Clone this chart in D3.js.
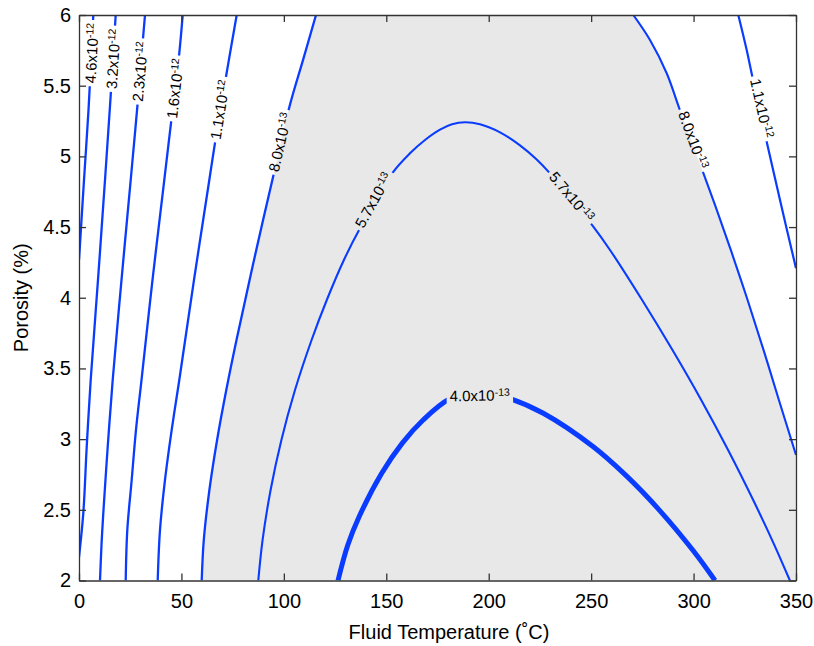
<!DOCTYPE html>
<html lang="en">
<head>
<meta charset="UTF-8">
<title>Permeability contours</title>
<script src="https://d3js.org/d3.v7.min.js"></script>
<style>
  body { margin: 0; background: #fff; }
  text { font-family: "Liberation Sans", Arial, Helvetica, sans-serif; fill: #000; }
</style>
</head>
<body>
<svg width="814" height="646"></svg>
<script>
// axis ticks
const xTicks = [0, 50, 100, 150, 200, 250, 300, 350];
const yTicks = [2, 2.5, 3, 3.5, 4, 4.5, 5, 5.5, 6];

// contour lines, [temperature (C), porosity (%)]
const k46 = [[0,4.267],[2.44,4.833],[4.64,5.328],[6.98,6.0]];
const k32 = [[0,2.166],[2.10,2.477],[3.76,2.944],[5.71,3.418],[9.27,4.126],[12.69,4.833],[15.48,5.434],[17.91,6.0]];
const k23 = [[10.25,2.0],[10.98,2.251],[11.86,2.477],[14.01,2.944],[16.45,3.418],[20.75,4.126],[25.24,4.833],[28.46,5.349],[31.39,5.859],[32.22,6.0]];
const k16 = [[22.80,2.0],[23.58,2.357],[25.72,2.711],[27.82,3.065],[30.51,3.418],[35.88,4.126],[41.64,4.833],[44.91,5.236],[48.96,5.731],[50.62,6.0]];
const k11a = [[38.42,2.0],[39.54,2.357],[41.98,2.711],[45.25,3.065],[48.96,3.418],[56.14,4.126],[63.61,4.833],[66.39,5.095],[71.76,5.564],[76.98,6.0]];
const k80a = [[59.90,2.0],[60.92,2.287],[63.65,2.640],[67.41,2.994],[71.90,3.347],[76.88,3.701],[84.69,4.220],[94.75,4.856],
  [102.95,5.363],[109.34,5.681],[115.69,6.0]];
const k57 = [[87.52,2.0],[89.62,2.287],[93.53,2.640],[98.80,2.994],[105.44,3.347],[113.54,3.701],[120.96,3.984],[129.31,4.267],
  [137.17,4.491],[153.13,4.885],[161.57,5.022],[168.90,5.116],[176.22,5.189],[182.08,5.227],[188.42,5.241],[195.74,5.227],
  [205.51,5.170],[215.27,5.078],[223.42,4.978],[229.57,4.885],[251.05,4.503],[259.20,4.338],[274.87,3.984],[289.71,3.630],
  [303.72,3.277],[316.85,2.923],[329.10,2.569],[339.06,2.263],[347.02,2.0]];
const k40 = [[126.43,2.0],[131.21,2.251],[136.73,2.451],[147.76,2.758],[157.72,2.970],[167.97,3.135],[180.61,3.282],
  [194.77,3.340],[210.05,3.289],[226.64,3.183],[251.05,2.946],[267.35,2.738],[283.61,2.493],[299.87,2.210],[310.46,2.0]];
const k80b = [[270.58,6.0],[278.73,5.823],[286.88,5.588],[293.03,5.340],[305.14,4.868],[310.75,4.644],[318.17,4.338],
  [326.37,3.984],[334.18,3.630],[341.65,3.277],[350,2.888]];
const k11b = [[321.83,6.0],[325.93,5.752],[328.86,5.552],[335.69,5.104],[342.19,4.691],[350,4.208]];

const contours = [
  { pts: k46, w: 2.3 }, { pts: k32, w: 2.3 }, { pts: k23, w: 2.3 }, { pts: k16, w: 2.3 },
  { pts: k11a, w: 2.3 }, { pts: k80a, w: 2.3 }, { pts: k57, w: 2.1 }, { pts: k40, w: 5 },
  { pts: k80b, w: 2.1 }, { pts: k11b, w: 2.2 }
];

// contour labels: line, position, mantissa, exponent
const labels = [
  { pts: k46, t: 6.2, p: 5.73, base: "4.6x10", exp: "-12" },
  { pts: k32, t: 16.7, p: 5.69, base: "3.2x10", exp: "-12" },
  { pts: k23, t: 29.8, p: 5.60, base: "2.3x10", exp: "-12" },
  { pts: k16, t: 46.9, p: 5.48, base: "1.6x10", exp: "-12" },
  { pts: k11a, t: 68.8, p: 5.33, base: "1.1x10", exp: "-12" },
  { pts: k80a, t: 98.1, p: 5.10, base: "8.0x10", exp: "-13" },
  { pts: k57, t: 143.7, p: 4.69, base: "5.7x10", exp: "-13" },
  { pts: k57, t: 240.5, p: 4.715, base: "5.7x10", exp: "-13" },
  { pts: k40, t: 195.6, p: 3.309, base: "4.0x10", exp: "-13" },
  { pts: k80b, t: 299.9, p: 5.116, base: "8.0x10", exp: "-13" },
  { pts: k11b, t: 333.3, p: 5.34, base: "1.1x10", exp: "-12" }
];

const margin = { top: 15, right: 18, bottom: 65.5, left: 79 };
const width = 814, height = 646;
const svg = d3.select("svg");

const x = d3.scaleLinear().domain([0, 350]).range([margin.left, width - margin.right]);
const y = d3.scaleLinear().domain([2, 6]).range([height - margin.bottom, margin.top]);

const lineGen = d3.line().x(d => x(d[0])).y(d => y(d[1])).curve(d3.curveCatmullRom.alpha(0.5));

const defs = svg.append("defs");
defs.append("clipPath").attr("id", "plotclip")
  .append("rect")
  .attr("x", x(0)).attr("y", y(6))
  .attr("width", x(350) - x(0)).attr("height", y(2) - y(6));

// shaded band between the two 8.0x10^-13 lines
const band = lineGen(k80a) + lineGen(k80b).replace(/^M/, "L")
  + "L" + x(350) + "," + y(2) + "Z";
svg.append("path")
  .attr("d", band)
  .attr("fill", "#e8e8e8")
  .attr("clip-path", "url(#plotclip)");

// labels first, so the gaps in the lines can be cut from their boxes
const labelG = svg.append("g");
labels.forEach(lb => {
  const px = x(lb.t), py = y(lb.p);
  const scr = lb.pts.map(d => [x(d[0]), y(d[1])]);
  let best = 0, bd = Infinity;
  scr.forEach((s, i) => {
    const dd = (s[0] - px) ** 2 + (s[1] - py) ** 2;
    if (dd < bd) { bd = dd; best = i; }
  });
  const a = scr[Math.max(best - 1, 0)], b = scr[Math.min(best + 1, scr.length - 1)];
  let ang = Math.atan2(b[1] - a[1], b[0] - a[0]) * 180 / Math.PI;
  if (ang > 90) ang -= 180;
  if (ang < -90) ang += 180;
  lb.transform = `translate(${px},${py}) rotate(${ang})`;

  const t = labelG.append("text")
    .attr("transform", lb.transform)
    .attr("text-anchor", "middle")
    .attr("dy", "0.36em")
    .style("font-size", "15px");
  t.append("tspan").text(lb.base);
  t.append("tspan").attr("dy", "-0.45em").style("font-size", "10.5px").text(lb.exp);
  lb.node = t.node();
});

const mask = defs.append("mask").attr("id", "lblmask")
  .attr("maskUnits", "userSpaceOnUse")
  .attr("x", 0).attr("y", 0).attr("width", width).attr("height", height);
mask.append("rect").attr("width", width).attr("height", height).attr("fill", "#fff");
labels.forEach(lb => {
  const bb = lb.node.getBBox();
  mask.append("rect")
    .attr("transform", lb.transform)
    .attr("x", bb.x - 3).attr("y", bb.y - 2)
    .attr("width", bb.width + 6).attr("height", bb.height + 4)
    .attr("fill", "#000");
});

svg.insert("g", () => labelG.node())
  .attr("clip-path", "url(#plotclip)")
  .append("g")
  .attr("mask", "url(#lblmask)")
  .selectAll("path")
  .data(contours)
  .join("path")
  .attr("d", d => lineGen(d.pts))
  .attr("fill", "none")
  .attr("stroke", "#0a3cff")
  .attr("stroke-width", d => d.w)
  .attr("stroke-linejoin", "round");

// axes, ticks pointing inwards on all four sides
const fmt = d => String(d);
const axisStyle = g => {
  g.select(".domain").attr("stroke", "#333").attr("stroke-width", 1.3);
  g.selectAll(".tick line").attr("stroke", "#333").attr("stroke-width", 1.3);
  g.selectAll(".tick text").style("font-size", "20px").attr("fill", "#000")
    .style("font-family", '"Liberation Sans", Arial, Helvetica, sans-serif');
};

svg.append("g")
  .attr("transform", `translate(0,${y(2)})`)
  .call(d3.axisBottom(x).tickValues(xTicks).tickFormat(fmt).tickSize(-7).tickSizeOuter(0).tickPadding(13))
  .call(axisStyle);
svg.append("g")
  .attr("transform", `translate(0,${y(6)})`)
  .call(d3.axisTop(x).tickValues(xTicks).tickFormat("").tickSize(-7).tickSizeOuter(0))
  .call(axisStyle);
svg.append("g")
  .attr("transform", `translate(${x(0)},0)`)
  .call(d3.axisLeft(y).tickValues(yTicks).tickFormat(fmt).tickSize(-7).tickSizeOuter(0).tickPadding(8))
  .call(axisStyle);
svg.append("g")
  .attr("transform", `translate(${x(350)},0)`)
  .call(d3.axisRight(y).tickValues(yTicks).tickFormat("").tickSize(-7).tickSizeOuter(0))
  .call(axisStyle);

svg.append("text")
  .attr("x", 449)
  .attr("y", 639)
  .attr("text-anchor", "middle")
  .style("font-size", "20px")
  .text("Fluid Temperature (˚C)");

svg.append("text")
  .attr("transform", `translate(28,${(y(2) + y(6)) / 2}) rotate(-90)`)
  .attr("text-anchor", "middle")
  .style("font-size", "20px")
  .text("Porosity (%)");
</script>
</body>
</html>
